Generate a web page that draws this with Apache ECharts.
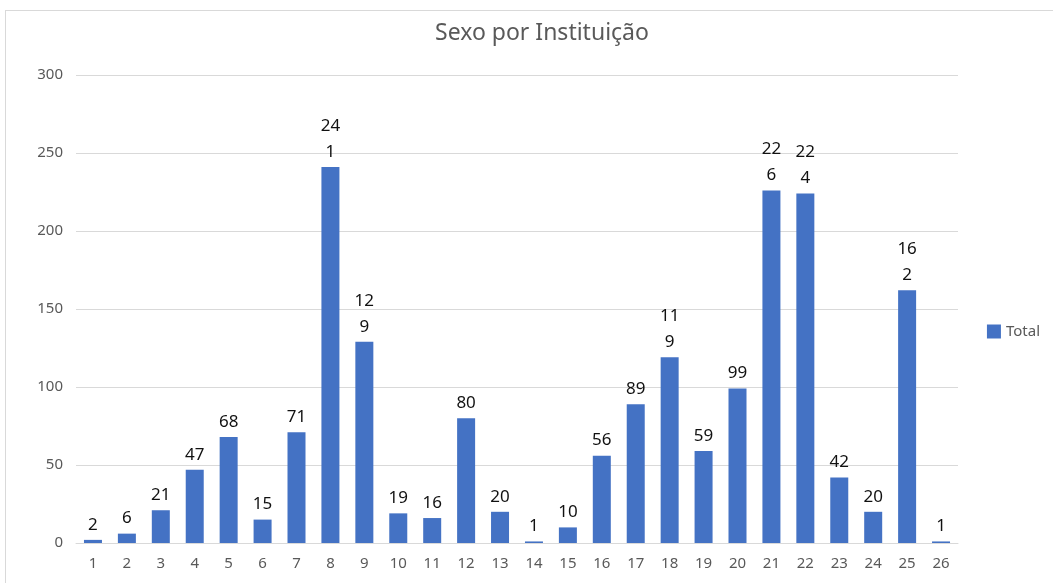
<!DOCTYPE html>
<html>
<head>
<meta charset="utf-8">
<script src="https://cdn.jsdelivr.net/npm/echarts@6/dist/echarts.min.js"></script>
<style>
  html, body { margin: 0; padding: 0; background: #fff; }
  #frame { position: absolute; left: 5px; top: 10px; width: 1060px; height: 590px; border: 1px solid #d9d9d9; box-sizing: border-box; }
  #chart { position: absolute; left: 0; top: 0; width: 1053px; height: 583px; }
</style>
</head>
<body>
<div id="frame"></div>
<div id="chart"></div>
<script>
    var categories = ['1','2','3','4','5','6','7','8','9','10','11','12','13','14','15','16','17','18','19','20','21','22','23','24','25','26'];
    var totals = [2, 6, 21, 47, 68, 15, 71, 241, 129, 19, 16, 80, 20, 1, 10, 56, 89, 119, 59, 99, 226, 224, 42, 20, 162, 1];
    var font = 'Noto Sans';

    var myChart = echarts.init(document.getElementById('chart'));
    var chart_option = {
        animation: false,
        title: {
            text: 'Sexo por Instituição',
            left: 537,
            top: 17,
            textAlign: 'center',
            textStyle: { fontFamily: font, fontSize: 23, fontWeight: 'normal', color: '#595959' }
        },
        legend: {
            data: ['Total'],
            icon: 'rect',
            right: 8,
            top: 319,
            orient: 'vertical',
            itemWidth: 14,
            itemHeight: 14,
            itemGap: 6,
            textStyle: { fontFamily: font, fontSize: 15, color: '#595959' }
        },
        grid: { left: 76, right: 95, top: 75, bottom: 40, containLabel: false },
        xAxis: {
            type: 'category',
            data: categories,
            axisLine: { lineStyle: { color: '#d9d9d9', width: 1 } },
            axisTick: { show: false },
            axisLabel: { fontFamily: font, fontSize: 15, color: '#595959', margin: 13 }
        },
        yAxis: {
            type: 'value',
            min: 0,
            max: 300,
            interval: 50,
            axisLine: { show: false },
            axisTick: { show: false },
            splitLine: { lineStyle: { color: '#d9d9d9', width: 1 } },
            axisLabel: { fontFamily: font, fontSize: 15, color: '#595959', margin: 13 }
        },
        series: [{
            name: 'Total',
            type: 'bar',
            data: totals,
            barWidth: 18,
            itemStyle: { color: '#4472c4' },
            label: {
                show: true,
                position: 'top',
                distance: 2,
                fontFamily: font,
                fontSize: 17,
                lineHeight: 26,
                color: '#111',
                formatter: function (p) {
                    var s = String(p.value);
                    // rótulos de 3 dígitos quebram em duas linhas, como no original
                    return s.length > 2 ? s.slice(0, 2) + '\n' + s.slice(2) : s;
                }
            }
        }]
    };
    myChart.setOption(chart_option);
</script>
</body>
</html>
